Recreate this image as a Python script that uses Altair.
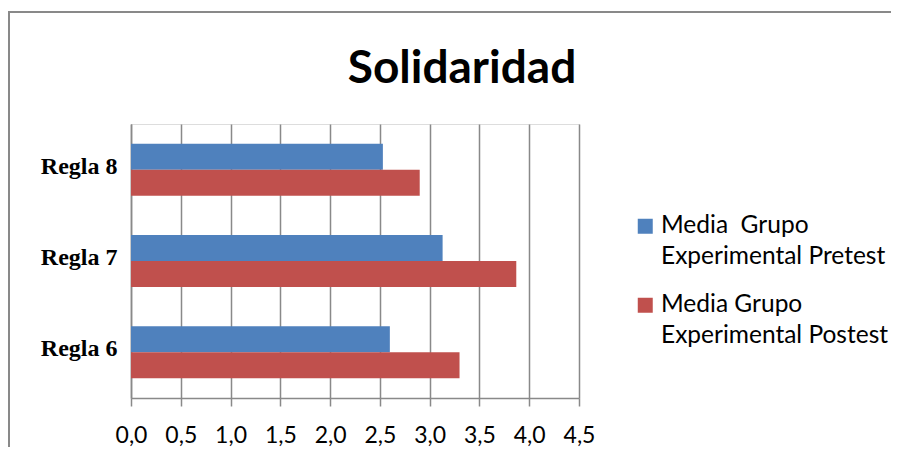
import altair as alt
import pandas as pd

categories = ["Regla 8", "Regla 7", "Regla 6"]
series = ["Media  Grupo Experimental Pretest", "Media Grupo Experimental Postest"]
legend_lines = [["Media\u00a0 Grupo", "Experimental Pretest"], ["Media Grupo", "Experimental Postest"]]
pretest = [2.53, 3.13, 2.60]
postest = [2.90, 3.87, 3.30]
x_ticks = [0, 0.5, 1.0, 1.5, 2.0, 2.5, 3.0, 3.5, 4.0, 4.5]
colors = ["#4F81BD", "#C0504D"]
title_text = "Solidaridad"

rows = []
for c, a, b in zip(categories, pretest, postest):
    rows.append({"regla": c, "serie": series[0], "valor": a})
    rows.append({"regla": c, "serie": series[1], "valor": b})
df = pd.DataFrame(rows)

W, H = 448, 274
GRAY = "#898989"
LEG_FS = 24.5

label_expr = (
    f"datum.label == '{series[0]}' ? {legend_lines[0]} : {legend_lines[1]}"
)

bars = alt.Chart(df).mark_bar().encode(
    x=alt.X(
        "valor:Q",
        scale=alt.Scale(domain=[0, 4.5], nice=False, zero=True),
        axis=alt.Axis(
            values=x_ticks,
            labelExpr="replace(format(datum.value, '.1f'), '.', ',')",
            title=None,
            grid=True,
            gridColor=GRAY,
            gridWidth=1.5,
            domainColor=GRAY,
            domainWidth=1.5,
            tickColor=GRAY,
            tickWidth=1.5,
            tickSize=8,
            labelFont="Lato",
            labelFontSize=23,
            labelColor="black",
            labelPadding=18,
            labelFlush=False,
        ),
    ),
    y=alt.Y(
        "regla:N",
        sort=categories,
        scale=alt.Scale(paddingInner=0.43, paddingOuter=0.215),
        axis=alt.Axis(
            title=None,
            ticks=False,
            grid=False,
            domainColor=GRAY,
            domainWidth=1.5,
            labelFont="Liberation Serif",
            labelFontWeight="bold",
            labelFontSize=24,
            labelColor="black",
            labelPadding=14,
            labelOffset=-3,
        ),
    ),
    yOffset=alt.YOffset("serie:N", sort=series),
    color=alt.Color(
        "serie:N",
        sort=series,
        scale=alt.Scale(domain=series, range=colors),
        legend=alt.Legend(
            title=None,
            orient="none",
            legendX=502,
            legendY=90,
            padding=0,
            symbolType="square",
            symbolSize=225,
            symbolStrokeWidth=0,
            labelFont="Lato",
            labelFontSize=LEG_FS,
            labelColor="black",
            labelLimit=500,
            labelOffset=3.5,
            labelBaseline="middle",
            labelExpr=label_expr,
            rowPadding=23,
        ),
    ),
)

frame = alt.Chart(alt.Data(values=[{"f": 1}])).mark_rect(
    fillOpacity=0, stroke=GRAY, strokeWidth=2
).encode(
    x=alt.value(-122), x2=alt.value(W + 500),
    y=alt.value(-112), y2=alt.value(H + 300),
)

chart = alt.layer(frame, bars).properties(
    width=W,
    height=H,
    title=alt.TitleParams(
        title_text,
        font="Lato",
        fontSize=46,
        fontWeight="bold",
        color="black",
        anchor="middle",
        frame="group",
        dx=107,
        baseline="alphabetic",
        offset=-118,
    ),
    autosize=alt.AutoSizeParams(type="none"),
    padding={"left": 123, "top": 116, "right": 312, "bottom": 49},
).configure_view(stroke=None).configure(
    style={"guide-label": {"lineHeight": 31}}
)

chart.save("out.html", embed_options={"renderer": "svg", "actions": False})
